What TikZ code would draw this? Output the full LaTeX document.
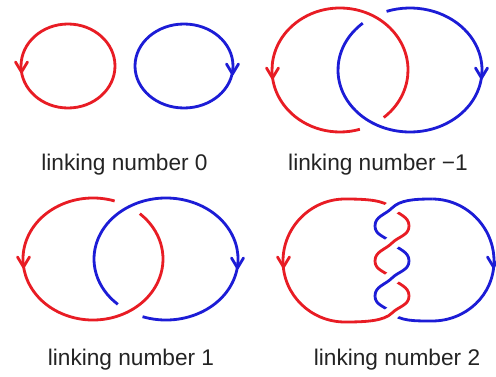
\documentclass[tikz,border=0pt]{standalone}
\usepackage{fontspec}
\setmainfont{Liberation Sans}
\definecolor{linkred}{RGB}{232,28,36}
\definecolor{linkblue}{RGB}{28,28,214}
\definecolor{labgray}{RGB}{35,35,35}
\begin{document}
\begin{tikzpicture}[x=0.02cm,y=0.02cm,
  knot/.style={line width=1.6pt},
  rk/.style={knot,draw=linkred},
  bk/.style={knot,draw=linkblue},
  over/.style={preaction={draw=white,line width=8pt}},
  tipv/.style={line width=1.6pt,line cap=round,line join=round},
  lab/.style={anchor=base,text=labgray,font=\fontsize{12.9}{15}\selectfont,inner sep=0pt}]
\useasboundingbox (0,0) rectangle (496,376);

% ---------- panel 1: linking number 0
\draw[rk] (68,310) ellipse[x radius=47,y radius=42];
\draw[bk] (184,310) ellipse[x radius=49,y radius=42];
\coordinate (t1r) at (21.5,304);
\coordinate (t1b) at (232.5,302);
\draw[tipv,linkred] (t1r) ++(-6,10) -- (t1r) -- ++(6,10);
\draw[tipv,linkblue] (t1b) ++(-6,10) -- (t1b) -- ++(6,10);
\node[lab] (l0) at (124.5,206) {linking number 0};

% ---------- panel 2: linking number -1
\draw[rk] (340,306) ++(-50:68 and 62) arc[start angle=-50,end angle=287,x radius=68,y radius=62];
\draw[bk] (410,306) ++(131:72 and 62) arc[start angle=131,end angle=469,x radius=72,y radius=62];
\coordinate (t2r) at (272.5,298);
\coordinate (t2b) at (481.5,298);
\draw[tipv,linkred] (t2r) ++(-6,10) -- (t2r) -- ++(6,10);
\draw[tipv,linkblue] (t2b) ++(-6,10) -- (t2b) -- ++(6,10);
\node[lab] (l1) at (378,206) {linking number −1};

% ---------- panel 3: linking number 1
\draw[rk] (93,117) ++(72:70 and 61) arc[start angle=72,end angle=408,x radius=70,y radius=61];
\draw[bk] (166,117) ++(251:72 and 61) arc[start angle=251,end angle=588,x radius=72,y radius=61];
\coordinate (t3r) at (23.5,109);
\coordinate (t3b) at (237.5,108);
\draw[tipv,linkred] (t3r) ++(-6,10) -- (t3r) -- ++(6,10);
\draw[tipv,linkblue] (t3b) ++(-6,10) -- (t3b) -- ++(6,10);
\node[lab] (l2) at (131,11) {linking number 1};

% ---------- panel 4: linking number 2
\coordinate (C1) at (392,168);
\coordinate (C2) at (392,133);
\coordinate (C3) at (392,98);
\coordinate (C4) at (392,63);
\coordinate (RR1) at (409,150);
\coordinate (RL1) at (375,115);
\coordinate (RR2) at (409,80);
\coordinate (BL1) at (375,150);
\coordinate (BR1) at (409,115);
\coordinate (BL2) at (375,80);
\coordinate (RT) at (345,177);
\coordinate (RB) at (345,54);
\coordinate (BT) at (432,177);
\coordinate (BB) at (432,55);
% under strands and outer arcs
\draw[rk] (RR1) to[out=90,in=-45] (C1) .. controls (384,176) and (366,177) .. (RT)
  .. controls (311,177) and (283,149) .. (283,115)
  .. controls (283,81) and (311,54) .. (RB);
\draw[rk] (RR2) to[out=90,in=-45] (C3) to[out=135,in=-90] (RL1);
\draw[bk] (BR1) to[out=90,in=-45] (C2) to[out=135,in=-90] (BL1);
\draw[bk] (BT) .. controls (466,177) and (494,149) .. (494,115)
  .. controls (494,81) and (466,55) .. (BB)
  .. controls (414,55) and (400,55) .. (C4) to[out=135,in=-90] (BL2);
% over strands
\draw[bk,over] (BL1) to[out=90,in=-135] (C1) .. controls (400,176) and (414,177) .. (BT);
\draw[bk,over] (BL2) to[out=90,in=-135] (C3) to[out=45,in=-90] (BR1);
\draw[rk,over] (RL1) to[out=90,in=-135] (C2) to[out=45,in=-90] (RR1);
\draw[rk,over] (RB) .. controls (366,54) and (384,55) .. (C4) to[out=45,in=-90] (RR2);
\coordinate (t4r) at (283.5,109);
\coordinate (t4b) at (493.5,109);
\draw[tipv,linkred] (t4r) ++(-6,10) -- (t4r) -- ++(6,10);
\draw[tipv,linkblue] (t4b) ++(-6,10) -- (t4b) -- ++(6,10);
\node[lab] (l3) at (397,11) {linking number 2};
\end{tikzpicture}
\end{document}
